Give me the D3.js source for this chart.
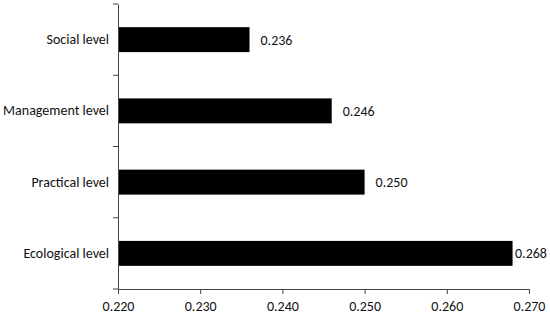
<!DOCTYPE html>
<html>
<head>
<meta charset="utf-8">
<script src="https://cdn.jsdelivr.net/npm/d3@7"></script>
<style>
  body { margin: 0; background: #fff; }
  svg text { font-family: Carlito, Calibri, Lato, sans-serif; fill: #111; }
</style>
</head>
<body>
<svg id="chart"></svg>
<script>
// chart data
const categories = ['Social level', 'Management level', 'Practical level', 'Ecological level'];
const values = [0.236, 0.246, 0.250, 0.268];
const xTicks = [0.22, 0.23, 0.24, 0.25, 0.26, 0.27];

const width = 550;
const height = 317;
const margin = { top: 4, right: 21, bottom: 28, left: 118 };
const fontSize = '14px';

const svg = d3.select('#chart').attr('width', width).attr('height', height);

// x scale (values), y scale (categories)
const x = d3
  .scaleLinear()
  .domain([0.22, 0.27])
  .range([margin.left, width - margin.right]);

const y = d3
  .scaleBand()
  .domain(categories)
  .range([margin.top, height - margin.bottom])
  .paddingInner(0.65)
  .paddingOuter(0.325);

// bars
svg
  .append('g')
  .selectAll('rect')
  .data(categories)
  .join('rect')
  .attr('x', x(0.22))
  .attr('y', (d) => y(d))
  .attr('width', (d, i) => x(values[i]) - x(0.22))
  .attr('height', y.bandwidth())
  .attr('fill', '#000');

// value labels, kept inside the svg for the longest bar
svg
  .append('g')
  .selectAll('text')
  .data(categories)
  .join('text')
  .attr('x', (d, i) => Math.min(x(values[i]) + 11, width - 35))
  .attr('y', (d) => y(d) + y.bandwidth() / 2)
  .attr('dy', '0.35em')
  .style('font-size', fontSize)
  .text((d, i) => values[i].toFixed(3));

// x axis
const xAxis = svg
  .append('g')
  .attr('transform', `translate(0,${height - margin.bottom})`)
  .call(
    d3.axisBottom(x)
      .tickValues(xTicks)
      .tickFormat(d3.format('.3f'))
      .tickSizeInner(5)
      .tickSizeOuter(0)
  );

// y axis: ticks sit between the categories
const yAxis = svg
  .append('g')
  .attr('transform', `translate(${margin.left},0)`)
  .call(d3.axisLeft(y).tickSize(0).tickPadding(9));

const edges = [margin.top].concat(categories.map((c) => y(c) + y.bandwidth() + (y.step() - y.bandwidth()) / 2));
yAxis
  .selectAll('line.sep')
  .data(edges)
  .join('line')
  .attr('class', 'sep')
  .attr('x1', -5)
  .attr('x2', 0)
  .attr('y1', (d) => d)
  .attr('y2', (d) => d)
  .attr('stroke', '#444');

xAxis.selectAll('path, line').attr('stroke', '#444');
yAxis.selectAll('path').attr('stroke', '#444');
xAxis.selectAll('text').style('font-size', fontSize).attr('dy', '1em');
yAxis.selectAll('text').style('font-size', fontSize);
</script>
</body>
</html>
